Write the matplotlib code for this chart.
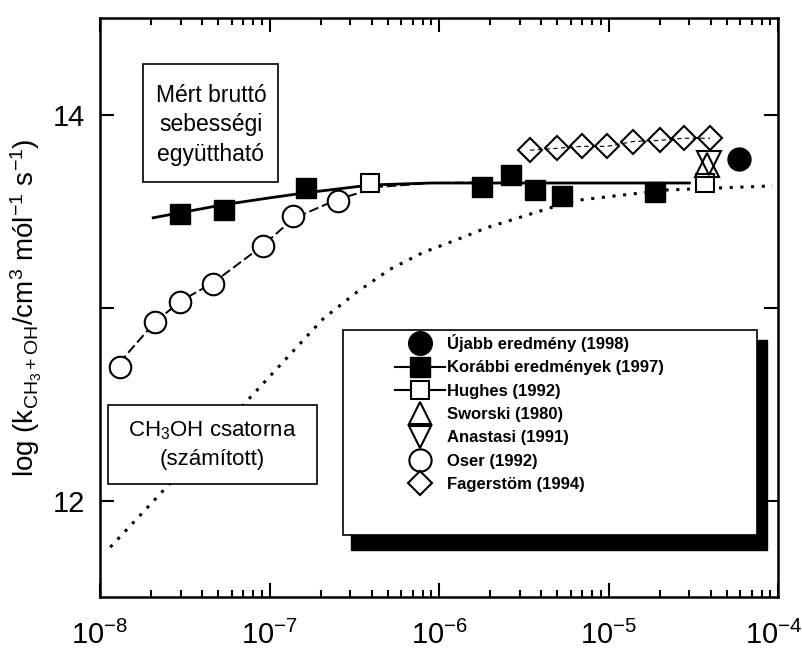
import matplotlib
matplotlib.use("Agg")
import matplotlib.pyplot as plt
from matplotlib.patches import Rectangle
from matplotlib.lines import Line2D
from matplotlib.ticker import FixedLocator, FixedFormatter, LogLocator
from matplotlib.transforms import ScaledTranslation

plt.rcParams['font.family'] = ['Liberation Sans', 'DejaVu Sans']
plt.rcParams['mathtext.fontset'] = 'custom'
plt.rcParams['mathtext.rm'] = 'Liberation Sans'
plt.rcParams['mathtext.it'] = 'Liberation Sans:italic'
plt.rcParams['mathtext.bf'] = 'Liberation Sans:bold'
plt.rcParams['mathtext.default'] = 'regular'

# measured points (x, log k)
ujabb_x = [5.9e-5]
ujabb_y = [13.77]

korabbi_x = [2.96e-8, 5.4e-8, 1.64e-7, 1.8e-6, 2.66e-6, 3.68e-6, 5.3e-6, 1.88e-5]
korabbi_y = [13.486, 13.506, 13.62, 13.625, 13.686, 13.61, 13.578, 13.60]

hughes_x = [3.92e-7, 3.7e-5]
hughes_y = [13.645, 13.645]

sworski_x = [3.8e-5]
sworski_y = [13.74]

anastasi_x = [3.9e-5]
anastasi_y = [13.75]

oser_x = [1.31e-8, 2.11e-8, 2.96e-8, 4.65e-8, 9.16e-8, 1.38e-7, 2.54e-7]
oser_y = [12.694, 12.925, 13.028, 13.121, 13.321, 13.476, 13.553]

fager_x = [3.44e-6, 4.97e-6, 6.98e-6, 9.8e-6, 1.40e-5, 2.01e-5, 2.79e-5, 3.97e-5]
fager_y = [13.815, 13.825, 13.835, 13.835, 13.86, 13.866, 13.877, 13.877]

# curves
fit_x = [2.06e-8, 5.3e-8, 1.0e-7, 1.62e-7, 3.98e-7, 8.9e-7, 3.0e-5]
fit_y = [13.465, 13.532, 13.568, 13.594, 13.635, 13.645, 13.645]

oserfit_x = [1.15e-8, 2.09e-8, 2.95e-8, 4.68e-8, 9.1e-8, 1.38e-7, 2.51e-7, 4.47e-7, 8.9e-7, 1.74e-6]
oserfit_y = [12.66, 12.92, 13.03, 13.13, 13.32, 13.46, 13.56, 13.625, 13.645, 13.648]

ch3oh_x = [1.15e-8, 2.36e-8, 8.0e-8, 1.32e-7, 2.07e-7, 3.28e-7, 5.14e-7, 8.05e-7,
           1.28e-6, 1.92e-6, 6.18e-6, 2.21e-5, 9.3e-5]
ch3oh_y = [11.758, 12.051, 12.55, 12.756, 12.941, 13.08, 13.198, 13.285,
           13.352, 13.414, 13.553, 13.609, 13.63]

xticks = [1e-8, 1e-7, 1e-6, 1e-5, 1e-4]
xticklabels = ['$10^{-8}$', '$10^{-7}$', '$10^{-6}$', '$10^{-5}$', '$10^{-4}$']

labels = ['Újabb eredmény (1998)', 'Korábbi eredmények (1997)', 'Hughes (1992)',
          'Sworski (1980)', 'Anastasi (1991)', 'Oser (1992)', 'Fagerstöm (1994)']

fig = plt.figure(figsize=(8.02, 6.53), dpi=100)
ax = fig.add_axes([100 / 802, 1 - 597 / 653, 678 / 802, 579 / 653])

lw = 1.5
ax.plot(ch3oh_x, ch3oh_y, color='k', lw=2.2, ls=(0, (1, 2.5)), zorder=1)
ax.plot(fit_x, fit_y, color='k', lw=2, zorder=2)
ax.plot(oserfit_x, oserfit_y, color='k', lw=1.4, ls=(0, (5, 2)), zorder=2)
ax.plot(fager_x, fager_y, color='k', lw=0.8, ls=(0, (4, 3)), zorder=2)

ax.plot(oser_x, oser_y, 'o', ms=15.5, mfc='white', mec='k', mew=lw, zorder=3)
ax.plot(korabbi_x, korabbi_y, 's', ms=14.4, mfc='k', mec='k', zorder=4)
ax.plot(hughes_x, hughes_y, 's', ms=13, mfc='white', mec='k', mew=lw, zorder=4)
ax.plot(fager_x, fager_y, 'D', ms=12.5, mfc='none', mec='k', mew=lw, zorder=4)
ax.plot(sworski_x, sworski_y, '^', ms=17, mfc='none', mec='k', mew=lw, zorder=5)
ax.plot(anastasi_x, anastasi_y, 'v', ms=17, mfc='none', mec='k', mew=lw, zorder=5)
ax.plot(ujabb_x, ujabb_y, 'o', ms=16.5, mfc='k', mec='k', zorder=5)

ax.set_xscale('log')
ax.set_xlim(1e-8, 1e-4)
ax.set_ylim(11.5, 14.5)
ax.xaxis.set_major_locator(FixedLocator(xticks))
ax.xaxis.set_major_formatter(FixedFormatter(xticklabels))
ax.xaxis.set_minor_locator(LogLocator(base=10, subs=range(2, 10), numticks=20))
ax.xaxis.set_minor_formatter(FixedFormatter([]))
ax.yaxis.set_major_locator(FixedLocator([12, 13, 14]))
ax.yaxis.set_major_formatter(FixedFormatter(['12', '', '14']))
ax.yaxis.set_minor_locator(FixedLocator([]))
ax.tick_params(which='both', direction='in', top=True, right=True, width=1.5)
ax.tick_params(which='major', length=10, labelsize=21, pad=11)
ax.tick_params(axis='x', which='major', pad=17)
ax.tick_params(which='minor', length=5)
for s in ax.spines.values():
    s.set_linewidth(1.8)

# keep the last label inside the canvas
fig.canvas.draw()
last = ax.get_xticklabels()[-1]
last.set_transform(last.get_transform() + ScaledTranslation(-4 / 100, 0, fig.dpi_scale_trans))

ax.set_ylabel('log (k$_{CH_3+OH}$/cm$^3$ mól$^{-1}$ s$^{-1}$)', fontsize=20, labelpad=6)

# text boxes
fig.patches.append(Rectangle((143 / 802, 1 - 182 / 653), 135 / 802, 118 / 653,
                             transform=fig.transFigure, fc='white', ec='k', lw=1.2, zorder=6))
fig.text(211 / 802, 1 - 125 / 653, 'Mért bruttó\nsebességi\negyüttható',
         ha='center', va='center', fontsize=16.5, linespacing=1.35, zorder=7)
fig.patches.append(Rectangle((108 / 802, 1 - 484 / 653), 209 / 802, 79 / 653,
                             transform=fig.transFigure, fc='white', ec='k', lw=1.2, zorder=6))
fig.text(212 / 802, 1 - 445 / 653, 'CH$_3$OH csatorna\n(számított)',
         ha='center', va='center', fontsize=16, linespacing=1.45, zorder=7)

# legend box with solid shadow
fig.patches.append(Rectangle((351 / 802, 1 - 550 / 653), 416 / 802, 210 / 653,
                             transform=fig.transFigure, fc='k', ec='k', zorder=6))
fig.patches.append(Rectangle((343 / 802, 1 - 535 / 653), 414 / 802, 205 / 653,
                             transform=fig.transFigure, fc='white', ec='k', lw=1.2, zorder=7))

handles = [
    Line2D([], [], ls='none', marker='o', ms=17, mfc='k', mec='k'),
    Line2D([], [], color='k', lw=1.5, marker='s', ms=14.4, mfc='k', mec='k'),
    Line2D([], [], color='k', lw=1.5, marker='s', ms=13, mfc='white', mec='k', mew=lw),
    Line2D([], [], ls='none', marker='^', ms=16.5, mfc='none', mec='k', mew=lw),
    Line2D([], [], ls='none', marker='v', ms=16.5, mfc='none', mec='k', mew=lw),
    Line2D([], [], ls='none', marker='o', ms=16, mfc='none', mec='k', mew=lw),
    Line2D([], [], ls='none', marker='D', ms=12.5, mfc='none', mec='k', mew=lw),
]
leg = fig.legend(handles, labels, loc='upper left', bbox_to_anchor=(395 / 802, 1 - 334 / 653),
                 frameon=False, prop={'size': 12, 'weight': 'bold'}, handlelength=3.0,
                 handletextpad=0.1, labelspacing=0.5, borderpad=0, borderaxespad=0)
leg.set_zorder(8)

fig.savefig('out.png', dpi=100)
